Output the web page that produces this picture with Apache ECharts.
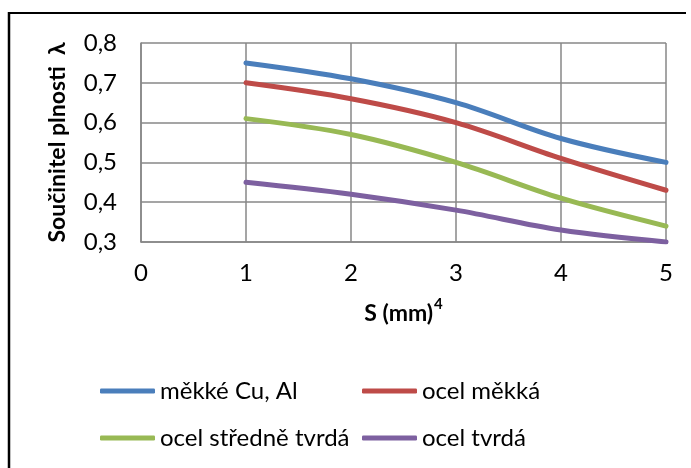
<!DOCTYPE html>
<html><head><meta charset="utf-8">
<script src="https://cdn.jsdelivr.net/npm/echarts@6/dist/echarts.min.js"></script>
<style>html,body{margin:0;padding:0;background:#fff}#c{width:691px;height:468px}</style>
</head><body><div id="c"></div>
<script>
const xValues = [1, 2, 3, 4, 5];
const seriesNames = ['měkké Cu, Al', 'ocel měkká', 'ocel středně tvrdá', 'ocel tvrdá'];
const mekkeCuAl = [0.75, 0.71, 0.65, 0.56, 0.50];
const ocelMekka = [0.70, 0.66, 0.60, 0.51, 0.43];
const ocelStredne = [0.61, 0.57, 0.50, 0.41, 0.34];
const ocelTvrda = [0.45, 0.42, 0.38, 0.33, 0.30];
const colors = ['#4A7EBB', '#BE4B48', '#98B954', '#7D60A0'];
const allValues = [mekkeCuAl, ocelMekka, ocelStredne, ocelTvrda];

const font = 'Lato';
const chart = echarts.init(document.getElementById('c'));
const legendPos = [[100, 379], [362, 379], [100, 426], [362, 426]];
chart.setOption({
  animation: false,
  textStyle: { fontFamily: font, color: '#000' },
  grid: { left: 141, right: 25, top: 43, bottom: 226 },
  xAxis: {
    type: 'value', min: 0, max: 5, interval: 1,
    name: '{b|S (mm)}{sup|4}', nameLocation: 'middle', nameGap: 55,
    nameTextStyle: { fontSize: 23, fontWeight: 'bold', color: '#000', fontFamily: font,
      rich: {
        b: { fontSize: 23, fontWeight: 'bold', color: '#000', fontFamily: font, verticalAlign: 'bottom', lineHeight: 28 },
        sup: { fontSize: 15, fontWeight: 'bold', color: '#000', fontFamily: font, verticalAlign: 'top', lineHeight: 28, padding: [0, 0, 12, 1] }
      } },
    axisLine: { lineStyle: { color: '#878787', width: 1.5 } },
    axisTick: { show: false },
    axisLabel: { fontSize: 24, color: '#000', margin: 19, fontFamily: font },
    splitLine: { show: true, lineStyle: { color: '#878787', width: 1.5 } }
  },
  yAxis: {
    type: 'value', min: 0.3, max: 0.8, interval: 0.1,
    name: 'Součinitel plnosti  λ', nameLocation: 'middle', nameGap: 72, nameRotate: 90,
    nameTextStyle: { fontSize: 23, fontWeight: 'bold', color: '#000', fontFamily: font },
    axisLine: { show: true, lineStyle: { color: '#878787', width: 1.5 } },
    axisTick: { show: false },
    axisLabel: { fontSize: 24, color: '#000', margin: 24, fontFamily: font,
      formatter: v => v.toFixed(1).replace('.', ',') },
    splitLine: { show: true, lineStyle: { color: '#878787', width: 1.5 } }
  },
  legend: seriesNames.map((n, i) => ({
    show: true,
    data: [n], left: legendPos[i][0], top: legendPos[i][1], padding: 0,
    itemWidth: 55, itemHeight: 5, itemGap: 0, icon: 'roundRect',
    textStyle: { fontSize: 24, color: '#000', fontFamily: font }
  })),
  series: allValues.map((vals, i) => ({
    name: seriesNames[i], type: 'line', smooth: 0.35, symbol: 'none',
    data: xValues.map((x, j) => [x, vals[j]]),
    color: colors[i],
    lineStyle: { width: 5, color: colors[i], cap: 'round' }
  })),
  graphic: [
    { type: 'line', shape: { x1: 9, y1: 13, x2: 686, y2: 13 }, style: { stroke: '#000', lineWidth: 2 } },
    { type: 'line', shape: { x1: 9, y1: 12, x2: 9, y2: 468 }, style: { stroke: '#000', lineWidth: 2.5 } }
  ]
});
</script></body></html>
